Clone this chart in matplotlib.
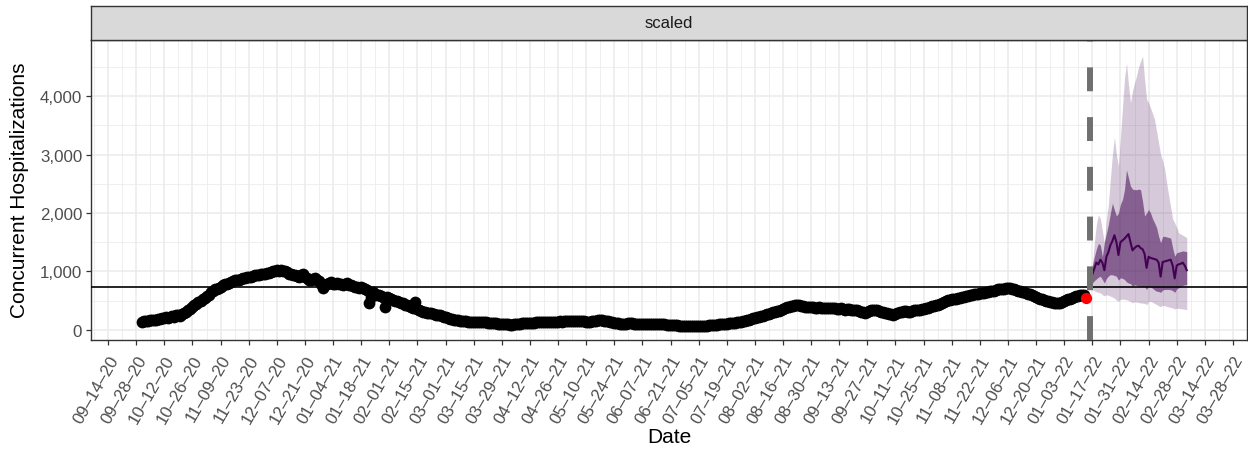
import numpy as np
import pandas as pd
import matplotlib
matplotlib.use("Agg")
import matplotlib.pyplot as plt
import matplotlib.dates as mdates
import matplotlib.transforms as mtransforms

plt.rcParams['font.family'] = ['Liberation Sans', 'DejaVu Sans']

# observed daily hospitalizations, starting 2020-10-01 (one row = one week)
obs_start = "2020-10-01"
obs_values = [
    140, 150, 155, 148, 160, 170, 165,
    175, 185, 180, 200, 195, 210, 205,
    220, 230, 215, 250, 245, 240, 265,
    290, 310, 330, 360, 390, 420, 445,
    470, 490, 520, 540, 570, 600, 640,
    660, 690, 700, 720, 740, 760, 775,
    790, 800, 815, 830, 845, 850, 860,
    870, 885, 890, 900, 910, 905, 920,
    935, 930, 940, 955, 950, 960, 975,
    980, 990, 1000, 1005, 1015, 1010, 1020,
    1000, 1010, 990, 960, 950, 940, 930,
    920, 910, 930, 960, 900, 880, 860,
    850, 870, 880, 860, 840, 780, 720,
    760, 790, 800, 810, 790, 780, 800,
    790, 780, 770, 790, 800, 770, 760,
    750, 740, 730, 720, 730, 710, 690,
    680, 460, 560, 640, 620, 600, 590,
    570, 560, 395, 560, 540, 520, 510,
    500, 490, 480, 460, 450, 430, 420,
    400, 390, 380, 470, 360, 340, 320,
    310, 300, 295, 290, 280, 270, 260,
    250, 245, 235, 225, 215, 200, 190,
    180, 175, 165, 160, 155, 150, 150,
    145, 140, 140, 138, 135, 135, 132,
    130, 128, 130, 125, 120, 118, 115,
    110, 108, 105, 100, 98, 95, 92,
    90, 88, 86, 90, 95, 100, 105,
    108, 110, 112, 115, 118, 120, 122,
    125, 124, 126, 128, 130, 132, 130,
    128, 132, 135, 138, 140, 142, 140,
    145, 148, 150, 152, 150, 148, 150,
    152, 155, 150, 145, 140, 135, 138,
    145, 150, 155, 160, 162, 160, 158,
    150, 145, 140, 130, 120, 115, 110,
    105, 100, 102, 105, 108, 110, 108,
    105, 100, 98, 100, 102, 105, 103,
    100, 98, 100, 102, 100, 98, 95,
    92, 90, 88, 85, 82, 80, 78,
    75, 72, 70, 68, 66, 65, 64,
    62, 60, 58, 60, 62, 65, 68,
    70, 72, 75, 78, 80, 85, 88,
    92, 95, 98, 100, 105, 110, 115,
    118, 120, 125, 130, 135, 145, 155,
    165, 175, 185, 195, 205, 215, 225,
    230, 240, 255, 265, 275, 290, 300,
    310, 315, 325, 340, 355, 370, 385,
    395, 405, 415, 425, 430, 420, 410,
    400, 395, 390, 385, 390, 395, 380,
    375, 385, 380, 370, 375, 380, 370,
    365, 370, 375, 360, 355, 365, 350,
    345, 355, 350, 340, 335, 345, 330,
    320, 310, 300, 290, 300, 315, 330,
    340, 345, 335, 320, 310, 300, 290,
    280, 270, 265, 260, 270, 285, 300,
    310, 320, 315, 305, 310, 320, 330,
    335, 340, 345, 350, 360, 370, 380,
    390, 400, 410, 420, 430, 445, 460,
    475, 490, 505, 515, 520, 525, 530,
    540, 550, 555, 560, 570, 580, 590,
    600, 610, 615, 620, 625, 630, 635,
    640, 650, 655, 660, 670, 680, 690,
    695, 700, 705, 710, 715, 710, 700,
    690, 680, 670, 660, 650, 640, 630,
    620, 610, 600, 580, 560, 545, 535,
    520, 510, 500, 490, 480, 470, 465,
    460, 455, 465, 480, 495, 510, 520,
    530, 545, 560, 570, 580, 595, 600,
    590,
]

# last observation (red)
last_date = "2022-01-14"
last_value = 543

threshold = 740
forecast_date = "2022-01-16"

# forecast, daily from 2022-01-16
fc_start = "2022-01-16"
fc_median = [
    900, 950, 1050, 1150, 1120, 1200, 1150, 1020,
    1250, 1330, 1450, 1520, 1620, 1500, 1280,
    1500, 1530, 1560, 1600, 1640, 1500, 1360,
    1400, 1430, 1440, 1400, 1380, 1300, 1060,
    1250, 1230, 1220, 1210, 1200, 1150, 910,
    1160, 1170, 1180, 1190, 1200, 1100, 880,
    1100, 1120, 1130, 1150, 1100, 1020,
]
fc_inner_hi = [
    1000, 1100, 1250, 1380, 1480, 1450, 1250, 1500,
    1650, 1800, 2000, 2170, 2050, 1950, 2000,
    2150, 2230, 2400, 2740, 2600, 2460, 2410,
    2400, 2400, 2410, 2400, 2200, 1950, 2000,
    2060, 2000, 1900, 1830, 1750, 1600, 1490,
    1600, 1600, 1590, 1580, 1570, 1400, 1260,
    1320, 1330, 1340, 1350, 1345, 1340,
]
fc_inner_lo = [
    780, 800, 840, 870, 900, 915, 860, 800,
    880, 920, 945, 940, 930, 915, 850,
    890, 880, 860, 820, 800, 790, 745,
    770, 760, 750, 745, 740, 740, 690,
    745, 730, 710, 680, 660, 655, 640,
    680, 690, 690, 690, 686, 670, 640,
    700, 720, 740, 760, 770, 772,
]
fc_outer_hi = [
    1000, 1100, 1500, 1800, 1970, 1900, 1700, 1490,
    1900, 2150, 2600, 3000, 3300, 3000, 2800,
    3300, 3800, 4300, 4570, 4200, 3890, 4100,
    4230, 4350, 4500, 4600, 4690, 4300, 3950,
    3890, 3800, 3700, 3600, 3400, 3200, 3000,
    2900, 2750, 2520, 2300, 2100, 1900, 1830,
    1750, 1660, 1640, 1620, 1600, 1580,
]
fc_outer_lo = [
    700, 690, 670, 650, 640, 630, 600, 580,
    600, 590, 575, 560, 540, 510, 485,
    520, 525, 520, 515, 500, 480, 460,
    480, 475, 465, 458, 455, 450, 430,
    480, 486, 470, 450, 430, 410, 395,
    420, 410, 400, 390, 380, 372, 355,
    370, 365, 360, 355, 350, 343,
]

y_ticks = [0, 1000, 2000, 3000, 4000]
y_labels = ["0", "1,000", "2,000", "3,000", "4,000"]
x_tick_start, x_tick_end = "2020-09-14", "2022-03-28"

obs_dates = pd.date_range(obs_start, periods=len(obs_values), freq="D")
fc_dates = pd.date_range(fc_start, periods=len(fc_median), freq="D")

W, H = 1248, 452
fig = plt.figure(figsize=(W / 100, H / 100), dpi=100)
L, R, T, B = 90.7, 1247, 40.7, 340.7
ax = fig.add_axes([L / W, 1 - B / H, (R - L) / W, (B - T) / H])
strip = fig.add_axes([L / W, 1 - T / H, (R - L) / W, (T - 7.3) / H])

purple = "#48105a"
ax.fill_between(fc_dates, fc_outer_lo, fc_outer_hi, color=purple, alpha=0.22, lw=0, zorder=2)
ax.fill_between(fc_dates, fc_inner_lo, fc_inner_hi, color=purple, alpha=0.57, lw=0, zorder=2)
ax.plot(fc_dates, fc_median, color="#440154", lw=1.5, zorder=4)

ax.scatter(obs_dates, obs_values, s=72, color="black", lw=0, zorder=3)
ax.axhline(threshold, color="black", lw=1.2, zorder=3.5)
ax.axvline(pd.Timestamp(forecast_date), color="#707070", lw=4.3,
           linestyle=(0, (4, 4.33)), zorder=4)
ax.scatter([pd.Timestamp(last_date)], [last_value], s=66, color="#ff0000", lw=0, zorder=5)

# axes limits (ggplot-style expansion)
ax.set_xlim(mdates.date2num(pd.Timestamp("2020-09-05 08:00")),
            mdates.date2num(pd.Timestamp("2022-03-29 20:00")))
ax.set_ylim(-171, 4970)

major = pd.date_range(x_tick_start, x_tick_end, freq="14D")
minor = pd.date_range("2020-09-07", "2022-04-04", freq="14D")
ax.set_xticks(major)
ax.set_xticks(minor, minor=True)
ax.set_xticklabels([])
# rotated date labels drawn by hand so they sit like ggplot's angle=60, hjust=1
lab_trans = mtransforms.blended_transform_factory(ax.transData, ax.transAxes) + \
    mtransforms.ScaledTranslation(0, -9.1 / 72, fig.dpi_scale_trans)
for d in major:
    ax.text(mdates.date2num(d), 0, d.strftime("%m–%d–%y"), transform=lab_trans,
            rotation=60, rotation_mode="anchor", ha="right", va="top",
            fontsize=12.2, color="#4d4d4d", clip_on=False)

ax.set_yticks(y_ticks)
ax.set_yticks([500, 1500, 2500, 3500, 4500], minor=True)
ax.set_yticklabels(y_labels)

ax.grid(which="major", color="#ebebeb", lw=1.1, zorder=0)
ax.grid(which="minor", color="#ebebeb", lw=0.55, zorder=0)
ax.set_axisbelow(True)
ax.tick_params(which="major", length=3.6, width=0.9, color="#333333",
               labelsize=12.2, labelcolor="#4d4d4d", pad=2.5)
ax.tick_params(which="minor", length=0)
for sp in ax.spines.values():
    sp.set_color("#333333")
    sp.set_linewidth(1.0)

strip.set_facecolor("#d9d9d9")
strip.set_xticks([])
strip.set_yticks([])
for sp in strip.spines.values():
    sp.set_color("#333333")
    sp.set_linewidth(1.0)
strip.text(0.5, 0.5, "scaled", ha="center", va="center", fontsize=12,
           color="#1a1a1a", transform=strip.transAxes)

fig.text(669 / W, 1 - 438 / H, "Date", ha="center", va="center", fontsize=15)
fig.text(20 / W, 1 - 190.7 / H, "Concurrent Hospitalizations", ha="center",
         va="center", rotation=90, fontsize=15)

fig.savefig("out.png", dpi=100)
